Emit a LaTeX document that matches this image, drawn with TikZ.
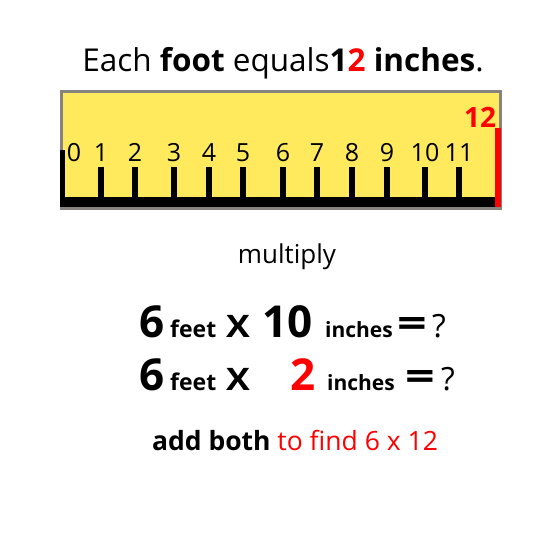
\documentclass[tikz,border=0pt]{standalone}
\usepackage{fontspec}
\setmainfont{Open Sans}
\definecolor{rulery}{RGB}{255,234,94}
\definecolor{rimgray}{RGB}{135,132,128}
\tikzset{
  fs/.style={font=\fontsize{#1}{#1}\selectfont,inner sep=0pt},
  bfs/.style={font=\fontsize{#1}{#1}\selectfont\bfseries,inner sep=0pt},
  word/.style={anchor=base west}
}
\newcommand{\wide}[2]{\scalebox{#1}[1]{#2}}
\begin{document}
\begin{tikzpicture}[x=1pt,y=-1pt]
\useasboundingbox (0,0) rectangle (550,550);
\fill[white] (0,0) rectangle (550,550);
\node[fs=31.5,anchor=base] (title) at (283,71) {Each \textbf{foot} equals\textbf{1\textcolor{red}{2} inches}.};
\filldraw[fill=rulery,draw=rimgray,line width=3] (61.5,91.5) rectangle (500,208.5);
\fill (60,197) rectangle (495,207);
\fill (60,150) rectangle (65,207);
\fill[red] (495,128) rectangle (501,207);
\node[fs=25,anchor=base] (d0) at (74,161) {0};
\foreach \n/\x in {1/101,2/135,3/174,4/209,5/243,6/283,7/317,8/352,9/387,10/425,11/459}{
  \fill (\x-3,167) rectangle (\x+3,197);
  \node[fs=25,anchor=base] (d\n) at (\x,161) {\n};
}
\node[bfs=28,text=red,anchor=base] (d12) at (480,127) {12};
\node[fs=26] (mult) at (287,257) {multiply};
\node[bfs=44,word] (sixa) at (139,337) {6};
\node[bfs=23,word] (feeta) at (170,337) {feet};
\node[bfs=31,word] (xa) at (226,337) {\wide{1.15}{X}};
\node[bfs=44,word] (ten) at (262,337) {10};
\node[bfs=21,word] (incha) at (325,337) {inches};
\node[bfs=40,word] (eqa) at (397,337) {\wide{1.3}{=}};
\node[fs=32,word] (qa) at (432,337) {?};
\node[bfs=44,word] (sixb) at (139,390) {6};
\node[bfs=23,word] (feetb) at (170,390) {feet};
\node[bfs=31,word] (xb) at (226,390) {\wide{1.15}{X}};
\node[bfs=44,word,text=red] (two) at (290,390) {2};
\node[bfs=21,word] (inchb) at (327,390) {inches};
\node[bfs=40,word] (eqb) at (405,390) {\wide{1.3}{=}};
\node[fs=32,word] (qb) at (441,390) {?};
\node[fs=26.5,anchor=base] (add) at (295,450) {\textbf{add both} \textcolor{red}{to find 6 x 12}};
\end{tikzpicture}
\end{document}
